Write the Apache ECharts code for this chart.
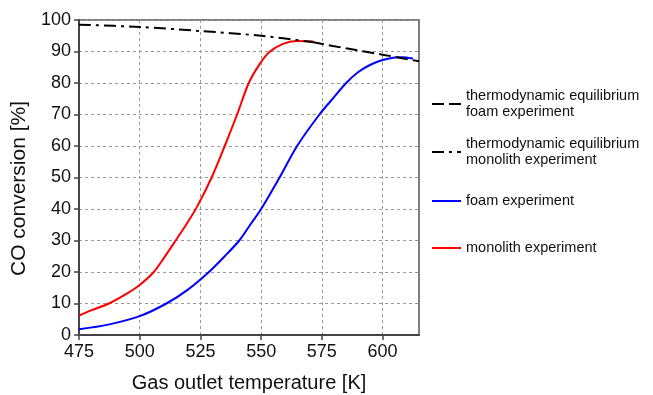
<!DOCTYPE html>
<html>
<head>
<meta charset="utf-8">
<script src="https://cdn.jsdelivr.net/npm/echarts@6/dist/echarts.min.js"></script>
<style>
  html, body { margin: 0; padding: 0; background: #fff; }
  #chart { width: 653px; height: 395px; }
</style>
</head>
<body>
<div id="chart"></div>
<script>
// values
const xTicks = [475, 500, 525, 550, 575, 600]
const yTicks = [0, 10, 20, 30, 40, 50, 60, 70, 80, 90, 100]

const eqMonolithT = [475, 500, 525, 550, 571]
const eqMonolithX = [98.5, 97.8, 96.5, 95.0, 93.0]

const eqFoamT = [571, 585, 600, 615]
const eqFoamX = [93.0, 91.0, 89.0, 86.9]

const foamT = [475, 487, 500, 511, 520, 528.5, 535, 541, 545.5, 550, 557.6, 564.8, 574, 580, 585, 590, 595, 600, 605, 608, 612.5]
const foamX = [1.8, 3.3, 6.0, 10, 14.5, 20, 25, 30, 35, 40, 50, 60, 70, 75.5, 80, 83.5, 85.8, 87.3, 88.1, 88.2, 87.8]

const monoT = [475, 480, 487.3, 495, 500, 505.8, 510, 514.8, 519.5, 523.8, 529.6, 535, 540.1, 544.9, 549.4, 553.5, 559, 564.5, 571.5]
const monoX = [6.2, 7.8, 10, 13.3, 15.9, 20, 24.5, 30, 35.5, 41, 50, 60, 70, 80, 86, 89.9, 92.4, 93.3, 93.2]

const pairs = (xs, ys) => xs.map((x, i) => [x, ys[i]])

const font = 'Arial, "Liberation Sans", sans-serif'
const dashed = [12, 5]
const dashDot = [12, 5, 3, 5]

const chart = echarts.init(document.getElementById('chart'))

const legendBase = {
  orient: 'vertical',
  left: 431,
  padding: 0,
  itemWidth: 29,
  itemHeight: 14,
  itemGap: 5,
  selectedMode: false,
  itemStyle: { opacity: 0 },
  textStyle: { fontFamily: font, fontSize: 14.5, color: '#111', lineHeight: 16 }
}
const twoLine = { fontFamily: font, fontSize: 14.5, color: '#111', lineHeight: 16, padding: [16, 0, 0, 0] }

chart.setOption({
  animation: false,
  backgroundColor: '#fff',
  grid: {
    left: 79, right: 234, top: 20, bottom: 60,
    outerBoundsMode: 'none',
    show: true, borderColor: '#555', borderWidth: 1.5
  },
  legend: [
    Object.assign({}, legendBase, {
      top: 80, data: ['eqFoam'], textStyle: twoLine,
      formatter: () => 'thermodynamic equilibrium\nfoam experiment'
    }),
    Object.assign({}, legendBase, {
      top: 128, data: ['eqMono'], textStyle: twoLine,
      formatter: () => 'thermodynamic equilibrium\nmonolith experiment'
    }),
    Object.assign({}, legendBase, { top: 193, data: ['foam experiment'] }),
    Object.assign({}, legendBase, { top: 240, data: ['monolith experiment'] })
  ],
  xAxis: {
    type: 'value',
    min: 475, max: 615, interval: 25,
    name: 'Gas outlet temperature [K]',
    nameLocation: 'middle',
    nameGap: 38,
    nameTextStyle: { fontFamily: font, fontSize: 20, color: '#111' },
    axisLine: { lineStyle: { color: '#444', width: 2 } },
    axisTick: { show: true, length: 5, lineStyle: { color: '#444', width: 1.5 }, customValues: xTicks },
    axisLabel: { fontFamily: font, fontSize: 18, color: '#111', margin: 8, customValues: xTicks },
    splitLine: { show: true, lineStyle: { color: '#999', type: [3, 3], width: 1 } }
  },
  yAxis: {
    type: 'value',
    min: 0, max: 100, interval: 10,
    name: 'CO conversion [%]',
    nameLocation: 'middle',
    nameGap: 46,
    nameTextStyle: { fontFamily: font, fontSize: 21, color: '#111', padding: [0, 22, 0, 0] },
    axisLine: { show: true, lineStyle: { color: '#444', width: 2 } },
    axisTick: { show: true, length: 5, lineStyle: { color: '#444', width: 1.5 }, customValues: yTicks },
    axisLabel: { fontFamily: font, fontSize: 18, color: '#111', margin: 8, customValues: yTicks },
    splitLine: { show: true, lineStyle: { color: '#999', type: [3, 3], width: 1 } }
  },
  series: [
    {
      name: 'monolith experiment', type: 'line', symbol: 'none', smooth: 0.3,
      data: pairs(monoT, monoX),
      lineStyle: { color: '#ff0000', width: 2 }, itemStyle: { color: '#ff0000' }
    },
    {
      name: 'foam experiment', type: 'line', symbol: 'none', smooth: 0.3,
      data: pairs(foamT, foamX),
      lineStyle: { color: '#0000ff', width: 2 }, itemStyle: { color: '#0000ff' }
    },
    {
      name: 'eqMono', type: 'line', symbol: 'none', smooth: 0.3,
      data: pairs(eqMonolithT, eqMonolithX),
      lineStyle: { color: '#000', width: 2, type: dashDot }, itemStyle: { color: '#000' }
    },
    {
      name: 'eqFoam', type: 'line', symbol: 'none', smooth: 0.3,
      data: pairs(eqFoamT, eqFoamX),
      lineStyle: { color: '#000', width: 2, type: dashed }, itemStyle: { color: '#000' }
    }
  ]
})
</script>
</body>
</html>
